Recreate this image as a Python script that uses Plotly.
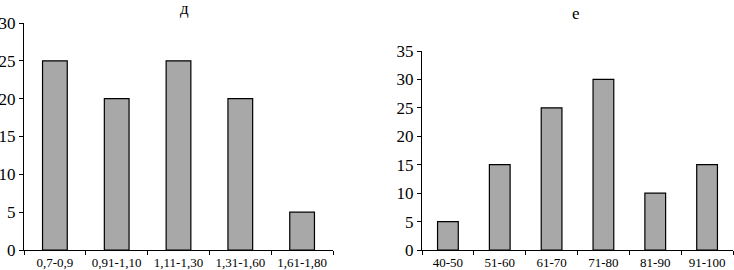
import plotly.graph_objects as go

cats_d = ["0,7-0,9", "0,91-1,10", "1,11-1,30", "1,31-1,60", "1,61-1,80"]
vals_d = [25, 20, 25, 20, 5]
cats_e = ["40-50", "51-60", "61-70", "71-80", "81-90", "91-100"]
vals_e = [5, 15, 25, 30, 10, 15]
title_d = "д"
title_e = "е"

W, H = 734, 270
font = "Liberation Serif"

fig = go.Figure()
fig.add_trace(go.Bar(x=cats_d, y=vals_d, xaxis="x", yaxis="y", width=0.4,
                     marker=dict(color="#a8a8a8", line=dict(color="black", width=1.2))))
fig.add_trace(go.Bar(x=cats_e, y=vals_e, xaxis="x2", yaxis="y2", width=0.4,
                     marker=dict(color="#a8a8a8", line=dict(color="black", width=1.2))))

ax_common = dict(showgrid=False, zeroline=False, showline=True, linecolor="black", linewidth=1.2,
                 ticks="outside", ticklen=4, tickcolor="black", tickwidth=1.2, automargin=False)
xf = dict(size=13, family=font, color="black")
yf = dict(size=17, family=font, color="black")
yb = (H - 250) / H
fig.update_layout(
    width=W, height=H, margin=dict(l=0, r=0, t=0, b=0),
    paper_bgcolor="white", plot_bgcolor="white", showlegend=False,
    font=dict(family=font, color="black"),
    xaxis=dict(domain=[24 / W, 333 / W], anchor="y", tickson="boundaries",
               tickfont=xf, **ax_common),
    yaxis=dict(domain=[yb, (H - 23) / H], anchor="x", range=[0, 30], dtick=5,
               tickfont=yf, **ax_common),
    xaxis2=dict(domain=[422 / W, 733 / W], anchor="y2", tickson="boundaries",
                tickfont=xf, **ax_common),
    yaxis2=dict(domain=[yb, (H - 51) / H], anchor="x2", range=[0, 35], dtick=5,
                tickfont=yf, **ax_common),
    annotations=[
        dict(text=title_d, x=178 / W, y=(H - 8) / H, xref="paper", yref="paper",
             yanchor="middle", showarrow=False, font=dict(size=17, family=font)),
        dict(text=title_e, x=582 / W, y=(H - 13) / H, xref="paper", yref="paper",
             yanchor="middle", showarrow=False, font=dict(size=17, family=font)),
    ],
)
fig.write_html("out.html", config={"displayModeBar": False},
               post_script="document.body.style.margin='0';document.body.style.padding='0';document.body.style.overflow='hidden';")
